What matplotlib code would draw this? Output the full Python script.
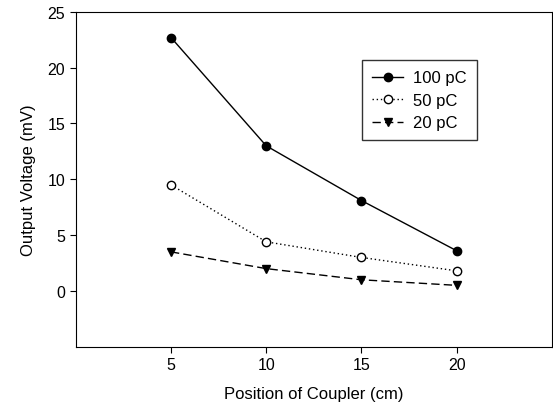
import matplotlib
matplotlib.use("Agg")
import matplotlib.pyplot as plt

plt.rcParams['font.family'] = ['Liberation Sans', 'DejaVu Sans']

positions = [5, 10, 15, 20]
v100 = [22.7, 13.0, 8.1, 3.6]
v50 = [9.5, 4.4, 3.0, 1.8]
v20 = [3.5, 2.0, 1.0, 0.5]
labels = ['100 pC', '50 pC', '20 pC']

fig = plt.figure(figsize=(5.53, 4.14), dpi=100)
ax = fig.add_axes([0.137, 0.16, 0.861, 0.809])

ax.plot(positions, v100, color='black', lw=1.0, marker='o', ms=6, mfc='black', label=labels[0])
ax.plot(positions, v50, color='black', lw=1.0, ls=(0, (1, 2)), marker='o', ms=6, mfc='white', label=labels[1])
ax.plot(positions, v20, color='black', lw=1.0, ls=(0, (6, 3)), marker='v', ms=6, mfc='black', label=labels[2])

ax.set_xlim(0, 25)
ax.set_ylim(-5, 25)
ax.set_xticks(positions)
ax.set_yticks([0, 5, 10, 15, 20, 25])
ax.tick_params(direction='out', length=4, labelsize=11.5, top=False, right=False)
ax.set_xlabel('Position of Coupler (cm)', fontsize=12, labelpad=10)
ax.set_ylabel('Output Voltage (mV)', fontsize=12, labelpad=8)

leg = ax.legend(loc='upper left', bbox_to_anchor=(0.583, 0.88), fontsize=12, frameon=True,
                fancybox=False, edgecolor='black', handlelength=1.9, handletextpad=0.6,
                borderpad=0.6, labelspacing=0.45)
leg.get_frame().set_linewidth(1.0)

fig.savefig('out.png', dpi=100)
